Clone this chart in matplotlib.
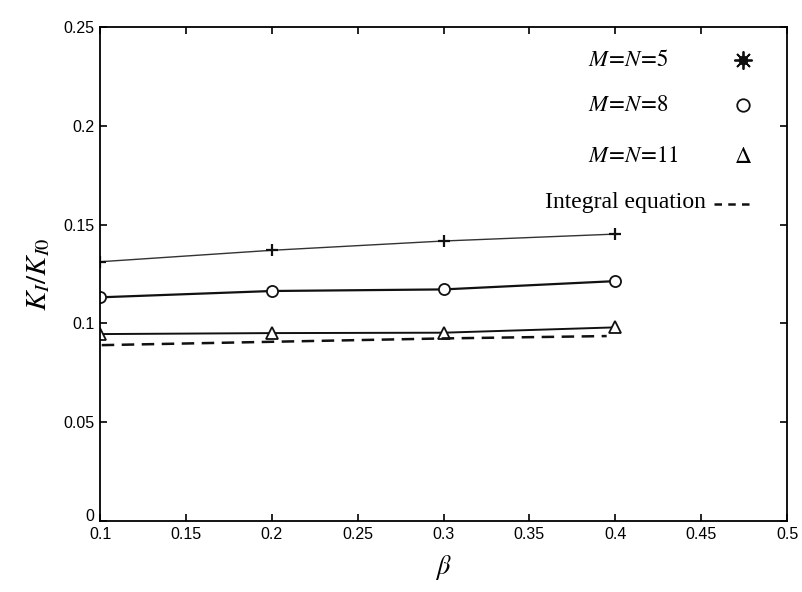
import matplotlib
matplotlib.use("Agg")
import matplotlib.pyplot as plt
import matplotlib.transforms as mtransforms

beta = [0.1, 0.2, 0.3, 0.4]
k_mn5 = [0.1312, 0.1370, 0.1417, 0.1452]
k_mn8 = [0.1132, 0.1164, 0.1172, 0.1214]
k_mn11 = [0.0946, 0.0951, 0.0953, 0.0980]
beta_int = [0.101, 0.2, 0.3, 0.395]
k_int = [0.0890, 0.0907, 0.0924, 0.0936]

xticks = [0.1, 0.15, 0.2, 0.25, 0.3, 0.35, 0.4, 0.45, 0.5]
xticklabels = ["0.1", "0.15", "0.2", "0.25", "0.3", "0.35", "0.4", "0.45", "0.5"]
yticks = [0, 0.05, 0.1, 0.15, 0.2, 0.25]
yticklabels = ["0", "0.05", "0.1", "0.15", "0.2", "0.25"]

plt.rcParams['mathtext.fontset'] = 'stix'

fig = plt.figure(figsize=(8.02, 5.92), dpi=100)
ax = fig.add_axes([0.1247, 0.1199, 0.8566, 0.8345])

ax.plot(beta, k_mn5, color='#333333', lw=1.0, marker='+', ms=8, mew=1.6, mec='#111111')
ax.plot(beta, k_mn8, color='#111111', lw=1.6, marker='o', ms=8, mfc='white', mec='#111111', mew=1.3)
ax.plot(beta, k_mn11, color='#111111', lw=1.4, marker='^', ms=8, mfc='white', mec='#111111', mew=1.3)
ax.plot(beta_int, k_int, color='#111111', lw=1.8, ls=(0, (5, 3)))

ax.set_xlim(0.1, 0.5)
ax.set_ylim(0, 0.25)
ax.set_xticks(xticks)
ax.set_xticklabels(xticklabels)
ax.set_yticks(yticks)
ax.set_yticklabels(yticklabels)
ax.tick_params(direction='in', top=True, right=True, length=5, width=1.2,
               labelsize=11.5, pad=4)
for lab in ax.get_xticklabels() + ax.get_yticklabels():
    lab.set_family('Liberation Sans')
# lift the "0" y label slightly so it clears the "0.1" x label
ylab0 = ax.get_yticklabels()[0]
ylab0.set_transform(ylab0.get_transform() +
                    mtransforms.ScaledTranslation(0, 6 / 100, fig.dpi_scale_trans))
for s in ax.spines.values():
    s.set_linewidth(1.3)

ax.set_xlabel(r'$\beta$', fontsize=19, labelpad=8)
ax.set_ylabel(r'$K_I/K_{I0}$', fontsize=21, labelpad=8)

# legend drawn manually
def fx(px):
    return (px - 100) / (787 - 100)

def fy(py):
    return (521 - py) / (521 - 27)

labels = [r'$M\!=\!N\!=\!\mathrm{5}$', r'$M\!=\!N\!=\!\mathrm{8}$', r'$M\!=\!N\!=\!\mathrm{11}$']
ys = [60, 105, 155]
for lab, yy in zip(labels, ys):
    ax.text(fx(588), fy(yy), lab, transform=ax.transAxes, fontsize=16.5,
            ha='left', va='center')
ax.plot([fx(743)], [fy(60)], transform=ax.transAxes, marker=(8, 2, 0), ms=13,
        mew=1.3, color='#111111', clip_on=False)
ax.plot([fx(743)], [fy(60)], transform=ax.transAxes, marker='o', ms=6,
        color='#111111', clip_on=False)
ax.plot([fx(743)], [fy(105)], transform=ax.transAxes, marker='o', ms=9,
        mfc='white', mec='#111111', mew=1.3, clip_on=False)
ax.text(fx(743), fy(156), r'$\Delta$', transform=ax.transAxes, fontsize=17,
        ha='center', va='center')
ax.text(fx(545), fy(202), 'Integral equation', transform=ax.transAxes,
        fontsize=17, family='Liberation Serif', ha='left', va='center')
ax.plot([fx(714), fx(750)], [fy(204), fy(204)], transform=ax.transAxes,
        color='#111111', lw=1.8, ls=(0, (3, 2.5)), clip_on=False)

fig.savefig('out.png', dpi=100)
